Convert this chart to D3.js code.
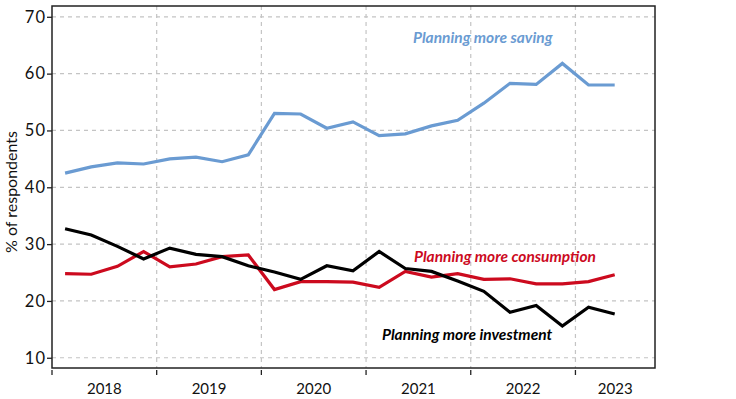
<!DOCTYPE html>
<html lang="en">
<head>
<meta charset="UTF-8">
<title>planning survey</title>
<script src="https://d3js.org/d3.v7.min.js"></script>
<style>
  body { margin: 0; background: #fff; }
  text { font-family: Lato, "Open Sans", sans-serif; }
</style>
</head>
<body>
<div id="fig"></div>
<script>
// quarterly survey, 2018Q1 .. 2023Q2
let quarters = ["2018Q1","2018Q2","2018Q3","2018Q4","2019Q1","2019Q2","2019Q3","2019Q4",
                "2020Q1","2020Q2","2020Q3","2020Q4","2021Q1","2021Q2","2021Q3","2021Q4",
                "2022Q1","2022Q2","2022Q3","2022Q4","2023Q1","2023Q2"]
let saving = [42.5,43.6,44.3,44.1,45.0,45.3,44.5,45.7,53.0,52.9,50.4,51.5,49.1,49.4,50.8,51.8,
              54.8,58.3,58.1,61.8,58.0,58.0]
let consumption = [24.8,24.7,26.1,28.7,26.0,26.5,27.8,28.1,22.0,23.4,23.4,23.3,22.4,25.2,24.2,24.8,
                   23.8,23.9,23.0,23.0,23.4,24.6]
let investment = [32.7,31.6,29.6,27.4,29.3,28.2,27.8,26.2,25.1,23.8,26.2,25.3,28.7,25.7,25.2,23.5,
                  21.7,18.0,19.2,15.6,18.9,17.7]
let years = ["2018","2019","2020","2021","2022","2023"]
let yTicks = [10,20,30,40,50,60,70]

let W = 736, H = 399
let mL = 52, mR = 655, mT = 6, mB = 368

let svg = d3.select("#fig").append("svg")
    .attr("width", W).attr("height", H)

let x = d3.scaleLinear().domain([0, 23.04]).range([mL, mR])
let y = d3.scaleLinear().domain([8.2, 71.9]).range([mB, mT])

// grid
let grid = svg.append("g")
grid.selectAll(".hg").data(yTicks).join("line")
    .attr("x1", mL).attr("x2", mR)
    .attr("y1", d => y(d)).attr("y2", d => y(d))
    .attr("stroke", "#c4c4c4").attr("stroke-width", 1.2).attr("stroke-dasharray", "4,4")
let yearStarts = years.map((d, i) => i * 4)
grid.selectAll(".vg").data(yearStarts.slice(1)).join("line")
    .attr("x1", d => x(d)).attr("x2", d => x(d))
    .attr("y1", mT).attr("y2", mB)
    .attr("stroke", "#c4c4c4").attr("stroke-width", 1.2).attr("stroke-dasharray", "4,4")

// y axis
let yAxis = svg.append("g").attr("transform", `translate(${mL},0)`)
    .call(d3.axisLeft(y).tickValues(yTicks).tickSize(5).tickPadding(1))
yAxis.select(".domain").remove()
yAxis.selectAll("line").attr("stroke", "#222").attr("stroke-width", 1.3)
yAxis.selectAll("text").attr("font-size", 16.5).attr("fill", "#111")
    .attr("letter-spacing", 1)
    .style("font-family", "Lato, sans-serif")

// x axis: ticks at year starts, labels centred on the part of year shown
let xAxis = svg.append("g").attr("transform", `translate(0,${mB + 2})`)
xAxis.selectAll("line").data(yearStarts).join("line")
    .attr("x1", d => x(d)).attr("x2", d => x(d))
    .attr("y1", 0).attr("y2", 5)
    .attr("stroke", "#222").attr("stroke-width", 1.3)
xAxis.selectAll("text").data(years).join("text")
    .attr("x", (d, i) => x((i * 4 + Math.min(i * 4 + 4, 23.04)) / 2))
    .attr("y", 24)
    .attr("text-anchor", "middle")
    .attr("font-size", 15).attr("fill", "#111")
    .text(d => d)

// frame
svg.append("rect")
    .attr("x", mL).attr("y", mT)
    .attr("width", mR - mL).attr("height", mB - mT)
    .attr("fill", "none").attr("stroke", "#222").attr("stroke-width", 1.5)

svg.append("text")
    .attr("transform", `translate(17,192) rotate(-90)`)
    .attr("text-anchor", "middle")
    .attr("font-size", 16).attr("fill", "#111")
    .text("% of respondents")

// lines
let line = d3.line().x((d, i) => x(i + 0.5)).y(d => y(d))
let series = [
    {name: "Planning more saving", values: saving, color: "#6a9bd2", lx: 413, ly: 43},
    {name: "Planning more consumption", values: consumption, color: "#cc0a1e", lx: 414, ly: 262},
    {name: "Planning more investment", values: investment, color: "#000000", lx: 382, ly: 340}
]
series.forEach(function (s) {
    svg.append("path").datum(s.values)
        .attr("d", line)
        .attr("fill", "none")
        .attr("stroke", s.color)
        .attr("stroke-width", 3.2)
        .attr("stroke-linejoin", "miter")
    svg.append("text")
        .attr("x", s.lx).attr("y", s.ly)
        .attr("font-size", 15.5)
        .attr("font-style", "italic")
        .attr("font-weight", "bold")
        .attr("fill", s.color)
        .text(s.name)
})
</script>
</body>
</html>
